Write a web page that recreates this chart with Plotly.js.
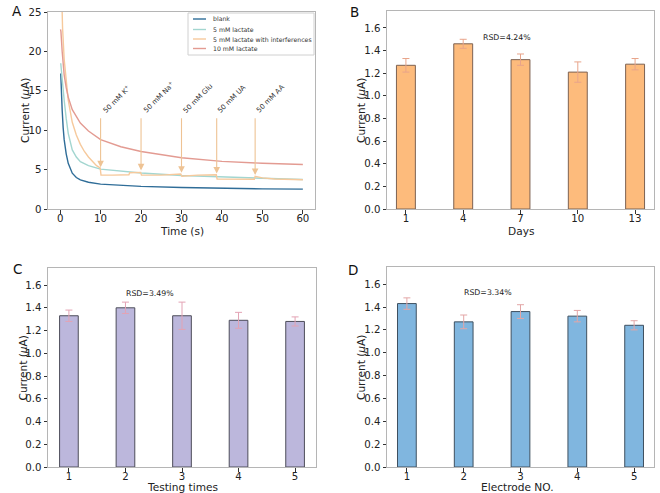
<!DOCTYPE html>
<html>
<head>
<meta charset="utf-8">
<script src="https://cdn.plot.ly/plotly-3.0.1.min.js"></script>
<style>html,body{margin:0;padding:0;background:#fff}#chart{width:660px;height:493px}</style>
</head>
<body>
<div id="chart"></div>
<script>
// ---- Panel A: amperometric response ----
const blankT = [0.15,0.3,0.5,0.75,1,1.5,2,3,4,5,7,10,15,20,30,40,50,60];
const blankI = [17.2,14.5,12.6,10.3,8.8,7.0,5.8,4.55,4.0,3.7,3.4,3.16,3.0,2.87,2.72,2.62,2.56,2.52];
const lac5T = [0.15,0.3,0.6,1,1.5,2,3,4,5,7,10,15,20,30,40,50,60];
const lac5I = [18.5,17.5,15.5,13.8,11.5,9.6,7.5,6.6,6.0,5.5,5.06,4.77,4.56,4.26,4.05,3.9,3.75];
const interfT = [0.45,0.6,1,1.5,2,3,4,5,6,7,8,9,9.9,10.1,13,17,17.2,19.9,20.1,25,29.8,30.1,34,38.6,38.8,44,48,48.2,50,53,57,60];
const interfI = [26,23,19,16,13.8,11,9.4,8.2,7.3,6.6,6.0,5.5,5.2,4.3,4.3,4.35,4.6,4.65,4.3,4.3,4.45,4.15,4.3,4.35,3.8,3.78,3.78,4.15,3.95,3.8,3.75,3.72];
const lac10T = [0.1,0.2,0.5,1,1.5,2,3,5,7,10,15,20,30,40,50,60];
const lac10I = [22.8,22.5,20,17,15.4,14.2,12.6,10.9,9.9,8.8,7.9,7.3,6.5,6.05,5.8,5.65];
const seriesNames = ['blank','5 mM lactate','5 mM lactate with interferences','10 mM lactate'];
const injectT = [10,20,30,38.7,48.2];
const injectTip = [5.3,4.9,4.6,4.5,4.3];
const injectLabels = ['50 mM K<sup>+</sup>','50 mM Na<sup>+</sup>','50 mM Glu','50 mM UA','50 mM AA'];
const injectTop = 11.7;

// ---- Panel B: stability ----
const dayLabels = ['1','4','7','10','13'];
const dayVals = [1.27,1.46,1.32,1.21,1.28];
const dayErr = [0.06,0.04,0.05,0.09,0.05];
// ---- Panel C: repeatability ----
const testLabels = ['1','2','3','4','5'];
const testVals = [1.33,1.40,1.33,1.29,1.28];
const testErr = [0.05,0.05,0.12,0.07,0.04];
// ---- Panel D: reproducibility ----
const elecLabels = ['1','2','3','4','5'];
const elecVals = [1.43,1.27,1.36,1.32,1.24];
const elecErr = [0.05,0.06,0.06,0.05,0.04];
const rsdTexts = ['RSD=4.24%','RSD=3.49%','RSD=3.34%'];
const xTitles = ['Time (s)','Days','Testing times','Electrode NO.'];
const yTitle = 'Current (<i>μ</i>A)';

const FONT = 'DejaVu Sans, sans-serif';
const lineCol = ['#2f6d98','#a3d6d0','#f6c99c','#e39b92'];
const W = 660, H = 493;
const px = v => v / W, py = v => 1 - v / H;

const traces = [
  {x: blankT, y: blankI, name: seriesNames[0]},
  {x: lac5T, y: lac5I, name: seriesNames[1]},
  {x: interfT, y: interfI, name: seriesNames[2]},
  {x: lac10T, y: lac10I, name: seriesNames[3]}
].map((t,i)=>Object.assign(t,{type:'scatter',mode:'lines',xaxis:'x',yaxis:'y',
  line:{color:lineCol[i],width:1.4},showlegend:false}));

function barTrace(labels, vals, err, ax, fill, edge, ecol){
  return {type:'bar', x:labels, y:vals, xaxis:'x'+ax, yaxis:'y'+ax, width:0.33,
    marker:{color:fill, line:{color:edge,width:1}}, showlegend:false,
    error_y:{type:'data', array:err, visible:true, color:ecol, thickness:1, width:3.5}};
}
traces.push(barTrace(dayLabels, dayVals, dayErr, 2, '#fdbb7c', '#7d6252', '#e8a48a'));
traces.push(barTrace(testLabels, testVals, testErr, 3, '#bcb7dc', '#4d4d5a', '#e3a3b4'));
traces.push(barTrace(elecLabels, elecVals, elecErr, 4, '#80b6df', '#3f5060', '#e3a6a6'));

const tickFont = {family:FONT, size:10.2, color:'#222'};
const titleFont = {family:FONT, size:10.6, color:'#222'};
function axisBase(extra){
  return Object.assign({showline:true, mirror:true, linecolor:'#b5b5b5', linewidth:1,
    ticks:'outside', ticklen:3.5, tickcolor:'#333', tickfont:tickFont, showgrid:false,
    zeroline:false, automargin:false}, extra);
}
const xBase = (extra)=>axisBase(Object.assign({ticklabelstandoff:-4}, extra));
const yBar = (dom)=>axisBase({domain:dom, range:[0,1.75], tickvals:[0,0.2,0.4,0.6,0.8,1.0,1.2,1.4,1.6],
  ticktext:['0.0','0.2','0.4','0.6','0.8','1.0','1.2','1.4','1.6']});

const annotations = [];
const shapes = [];
injectT.forEach((t,i)=>{
  annotations.push({x:t, y:injectTip[i], ax:t, ay:injectTop, xref:'x', yref:'y', axref:'x', ayref:'y',
    text:'', showarrow:true, arrowhead:2, arrowsize:1.2, arrowwidth:1.1, arrowcolor:'#eec394'});
  annotations.push({x:t, y:injectTop, xref:'x', yref:'y', text:injectLabels[i], showarrow:false,
    textangle:-45, xanchor:'left', yanchor:'bottom', xshift:-3, yshift:-1,
    font:{family:FONT, size:7, color:'#333'}});
});
const rsdFont = {family:FONT, size:7.8, color:'#222'};
annotations.push({x:1.76, y:1.52, xref:'x2', yref:'y2', text:rsdTexts[0], showarrow:false, font:rsdFont});
annotations.push({x:1.43, y:1.53, xref:'x3', yref:'y3', text:rsdTexts[1], showarrow:false, font:rsdFont});
annotations.push({x:1.43, y:1.53, xref:'x4', yref:'y4', text:rsdTexts[2], showarrow:false, font:rsdFont});
const cm = {xanchor:'center', yanchor:'middle', showarrow:false, xref:'paper', yref:'paper'};
[['A',17,11],['B',354,12],['C',17,269],['D',353,269.5]].forEach(p=>{
  annotations.push(Object.assign({x:px(p[1]), y:py(p[2]), text:p[0],
    font:{family:FONT, size:13.5, color:'#111'}}, cm));
});
// axis titles
[[182,231],[521,231],[182,487],[517,487]].forEach((p,i)=>{
  annotations.push(Object.assign({x:px(p[0]), y:py(p[1]), text:xTitles[i], font:titleFont}, cm));
});
[[25,111],[361,111],[22.5,368],[361,368]].forEach(p=>{
  annotations.push(Object.assign({x:px(p[0]), y:py(p[1]), text:yTitle, textangle:-90, font:titleFont}, cm));
});
// legend of panel A
shapes.push({type:'rect', xref:'paper', yref:'paper', x0:px(188), x1:px(314), y0:py(55), y1:py(13),
  line:{color:'#d0d0d0', width:1}, fillcolor:'rgba(255,255,255,0.9)', layer:'above'});
const legRows = [19,29.5,39,48.5];
seriesNames.forEach((n,i)=>{
  shapes.push({type:'line', xref:'paper', yref:'paper', x0:px(193), x1:px(206), y0:py(legRows[i]), y1:py(legRows[i]),
    line:{color:lineCol[i], width:1.4}, layer:'above'});
  annotations.push({x:px(211), y:py(legRows[i]), xref:'paper', yref:'paper', text:n, showarrow:false,
    xanchor:'left', yanchor:'middle', font:{family:FONT, size:6.2, color:'#333'}});
});

const layout = {
  width:W, height:H, margin:{l:0,r:0,t:0,b:0}, paper_bgcolor:'#fff', plot_bgcolor:'#fff',
  font:{family:FONT}, bargap:0.5, showlegend:false,
  xaxis: xBase({domain:[px(48),px(315)], range:[-3,63], tickvals:[0,10,20,30,40,50,60], anchor:'y'}),
  yaxis: axisBase({domain:[py(209),py(12)], range:[0,25], tickvals:[0,5,10,15,20,25], anchor:'x'}),
  xaxis2: xBase({domain:[px(387),px(654)], range:[-0.33,4.33], type:'category', anchor:'y2'}),
  yaxis2: Object.assign(yBar([py(209),py(11)]), {anchor:'x2'}),
  xaxis3: xBase({domain:[px(48),px(316)], range:[-0.37,4.37], type:'category', anchor:'y3'}),
  yaxis3: Object.assign(yBar([py(467),py(268)]), {anchor:'x3'}),
  xaxis4: xBase({domain:[px(387),px(654)], range:[-0.35,4.35], type:'category', anchor:'y4'}),
  yaxis4: Object.assign(yBar([py(467),py(267)]), {anchor:'x4'}),
  annotations: annotations,
  shapes: shapes
};

Plotly.newPlot('chart', traces, layout, {staticPlot:true, displayModeBar:false});
</script>
</body>
</html>
